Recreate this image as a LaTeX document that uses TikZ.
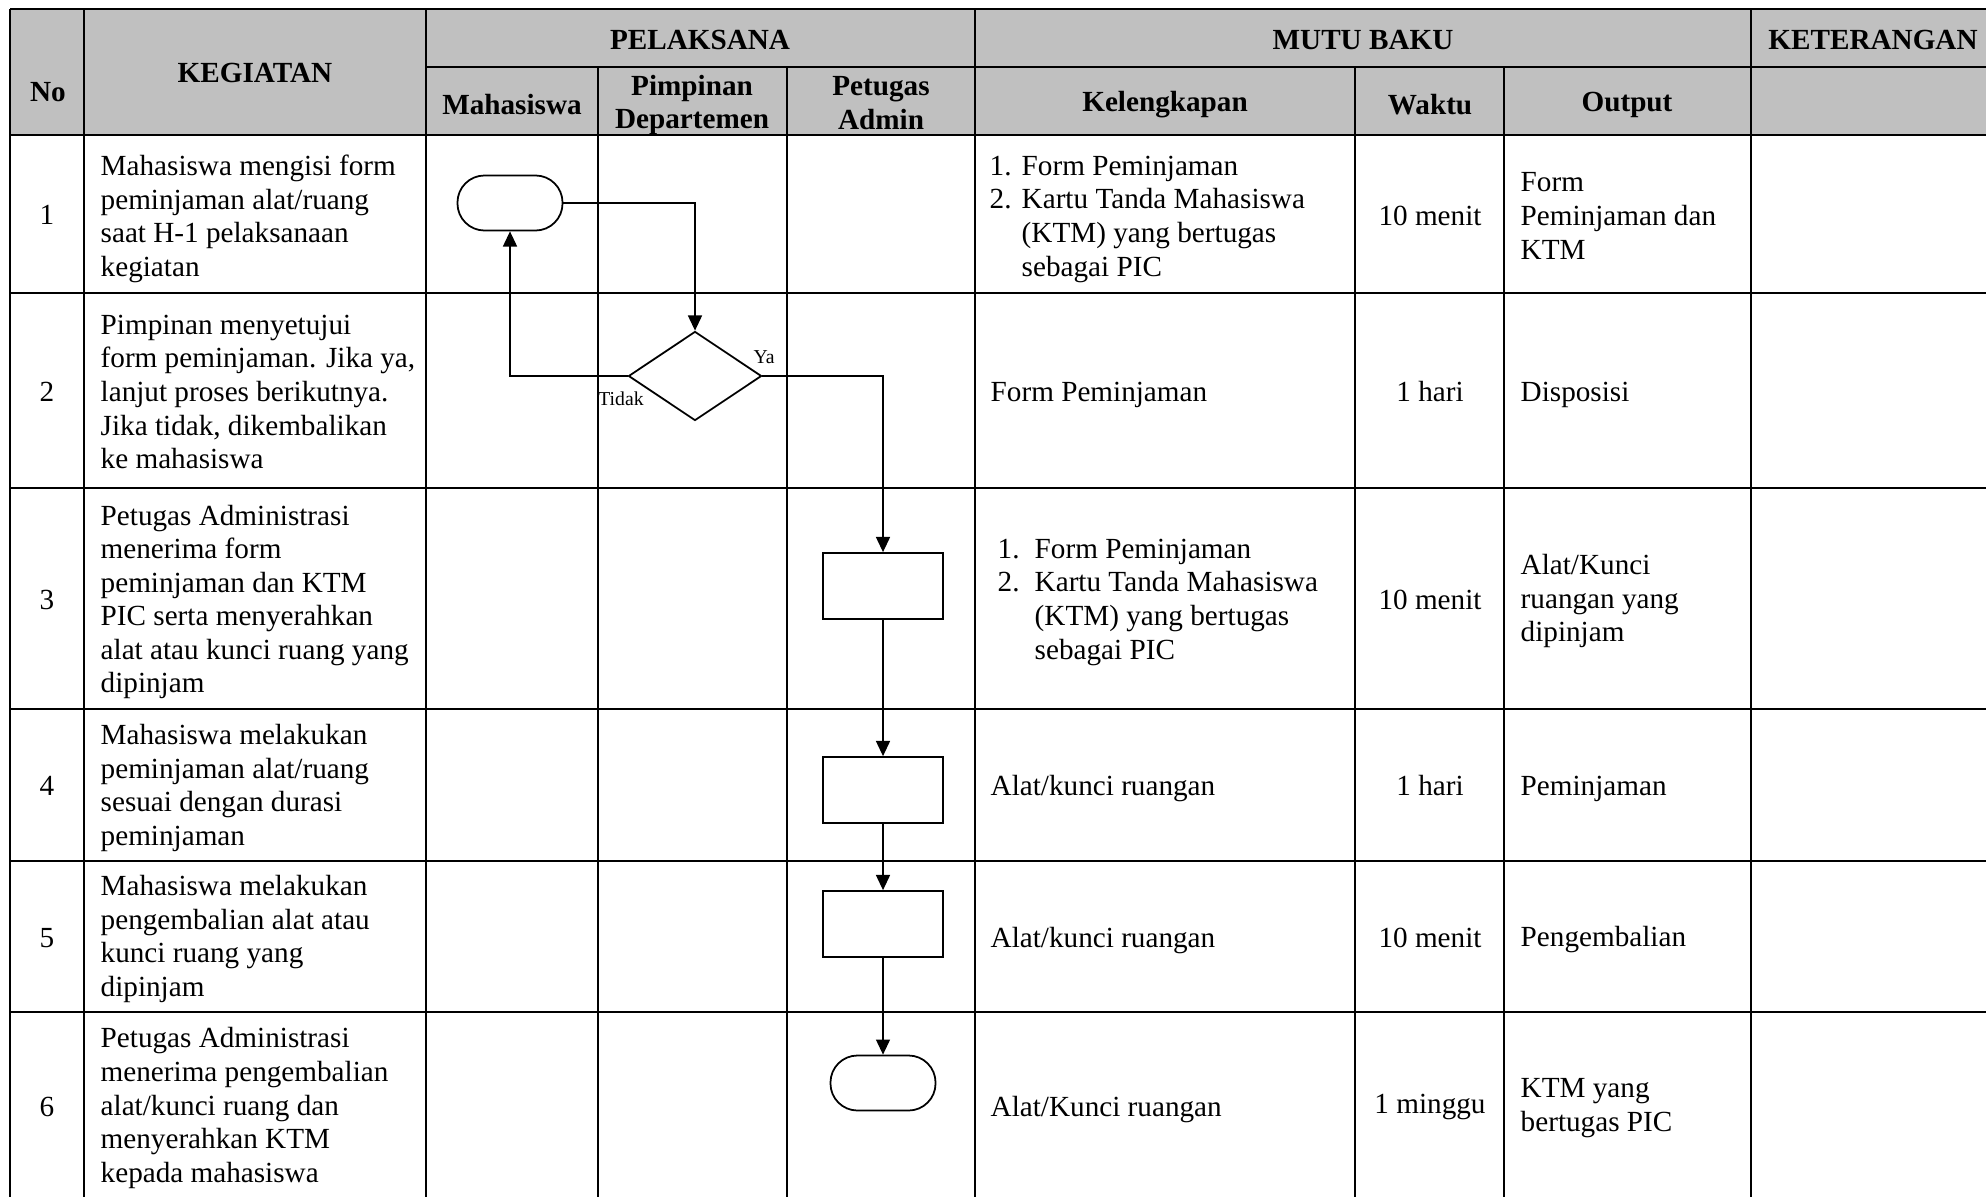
\documentclass[tikz,border=0pt]{standalone}
\usepackage{fontspec}
\setmainfont{Liberation Serif}
\usetikzlibrary{arrows.meta,shapes.geometric}
\definecolor{headgray}{RGB}{192,192,192}

\begin{document}
\begin{tikzpicture}[
  x=0.01cm, y=-0.01cm,
  font=\fontsize{8.3}{9.55}\selectfont,
  hline/.style={line width=0.8pt},
  vline/.style={line width=0.6pt},
  head/.style={font=\fontsize{8.3}{9.55}\selectfont\bfseries, align=center, inner sep=0pt},
  cell/.style={anchor=west, align=left, inner sep=0pt},
  mid/.style={align=center, inner sep=0pt},
  terminal/.style={draw, line width=0.5pt, rounded corners=0.27cm, minimum width=1.05cm, minimum height=0.55cm, inner sep=0pt},
  proses/.style={draw, line width=0.5pt, minimum width=1.2cm, minimum height=0.66cm, inner sep=0pt},
  keputusan/.style={draw, diamond, line width=0.5pt, minimum width=1.33cm, minimum height=0.89cm, inner sep=0pt},
  arrow/.style={-{Triangle[length=4.3pt,width=4pt]}, line width=0.35pt},
  lbl/.style={font=\fontsize{5.6}{6.5}\selectfont, inner sep=0pt}
]
\useasboundingbox (0,0) rectangle (1986,1197);
\clip (0,0) rectangle (1986,1197);

\fill[headgray] (10,9) rectangle (2000,135);
\draw[hline] (10,9) -- (2000,9);
\draw[hline] (426,67) -- (2000,67);
\draw[hline] (10,135) -- (2000,135);
\draw[hline] (10,293) -- (2000,293);
\draw[hline] (10,488) -- (2000,488);
\draw[hline] (10,709) -- (2000,709);
\draw[hline] (10,861) -- (2000,861);
\draw[hline] (10,1012) -- (2000,1012);
\draw[vline] (10,9) -- (10,1197);
\draw[vline] (84,9) -- (84,1197);
\draw[vline] (426,9) -- (426,1197);
\draw[vline] (598,67) -- (598,1197);
\draw[vline] (787,67) -- (787,1197);
\draw[vline] (975,9) -- (975,1197);
\draw[vline] (1355,67) -- (1355,1197);
\draw[vline] (1504,67) -- (1504,1197);
\draw[vline] (1751,9) -- (1751,1197);

\node[head] (hno) at (48,92) {No};
\node[head] (hkeg) at (255,73) {KEGIATAN};
\node[head] (hpel) at (700,40) {PELAKSANA};
\node[head] (hmutu) at (1363,40) {MUTU BAKU};
\node[head] (hket) at (1873,40) {KETERANGAN};
\node[head] (hmhs) at (512,105) {Mahasiswa};
\node[head] (hpim) at (692,105) {Pimpinan\\Departemen};
\node[head] (hadm) at (881,103) {Petugas\\Admin};
\node[head] (hkel) at (1165,105) {Kelengkapan};
\node[head] (hwkt) at (1430,105) {Waktu};
\node[head] (hout) at (1627,105) {Output};

\node[mid] (no1) at (47,215) {1};
\node[mid] (no2) at (47,392) {2};
\node[mid] (no3) at (47,600) {3};
\node[mid] (no4) at (47,786) {4};
\node[mid] (no5) at (47,938) {5};
\node[mid] (no6) at (47,1107) {6};

\node[cell] (keg1) at (100,219) {Mahasiswa mengisi form\\peminjaman alat/ruang\\saat H-1 pelaksanaan\\kegiatan};
\node[cell] (keg2) at (100,392) {Pimpinan menyetujui\\form peminjaman. Jika ya,\\lanjut proses berikutnya.\\Jika tidak, dikembalikan\\ke mahasiswa};
\node[cell] (keg3) at (100,602) {Petugas Administrasi\\menerima form\\peminjaman dan KTM\\PIC serta menyerahkan\\alat atau kunci ruang yang\\dipinjam};
\node[cell] (keg4) at (100,788) {Mahasiswa melakukan\\peminjaman alat/ruang\\sesuai dengan durasi\\peminjaman};
\node[cell] (keg5) at (100,939) {Mahasiswa melakukan\\pengembalian alat atau\\kunci ruang yang\\dipinjam};
\node[cell] (keg6) at (100,1108) {Petugas Administrasi\\menerima pengembalian\\alat/kunci ruang dan\\menyerahkan KTM\\kepada mahasiswa};

\node[cell] (kel1) at (989,219) {\begin{tabular}{@{}p{0.32cm}@{}l@{}}1.&Form Peminjaman\\2.&Kartu Tanda Mahasiswa\\&(KTM) yang bertugas\\&sebagai PIC\end{tabular}};
\node[cell] (kel2) at (990,395) {Form Peminjaman};
\node[cell] (kel3) at (997,602) {\begin{tabular}{@{}p{0.37cm}@{}l@{}}1.&Form Peminjaman\\2.&Kartu Tanda Mahasiswa\\&(KTM) yang bertugas\\&sebagai PIC\end{tabular}};
\node[cell] (kel4) at (990,789) {Alat/kunci ruangan};
\node[cell] (kel5) at (990,941) {Alat/kunci ruangan};
\node[cell] (kel6) at (990,1110) {Alat/Kunci ruangan};

\node[mid] (wkt1) at (1430,216) {10 menit};
\node[mid] (wkt2) at (1430,392) {1 hari};
\node[mid] (wkt3) at (1430,600) {10 menit};
\node[mid] (wkt4) at (1430,786) {1 hari};
\node[mid] (wkt5) at (1430,938) {10 menit};
\node[mid] (wkt6) at (1430,1107) {1 minggu};

\node[cell] (out1) at (1520,216) {Form\\Peminjaman dan\\KTM};
\node[cell] (out2) at (1520,395) {Disposisi};
\node[cell] (out3) at (1520,601) {Alat/Kunci\\ruangan yang\\dipinjam};
\node[cell] (out4) at (1520,789) {Peminjaman};
\node[cell] (out5) at (1520,940) {Pengembalian};
\node[cell] (out6) at (1520,1108) {KTM yang\\bertugas PIC};

\node[terminal] (mulai) at (510,203) {};
\node[keputusan] (setuju) at (695,376) {};
\node[proses] (terima) at (883,586) {};
\node[proses] (pinjam) at (883,790) {};
\node[proses] (kembali) at (883,924) {};
\node[terminal] (selesai) at (883,1083) {};
\node[lbl] (ya) at (764,357) {Ya};
\node[lbl] (tidak) at (621,399) {Tidak};

\draw[arrow] (mulai.east) -| (setuju.north);
\draw[arrow] (setuju.west) -| (mulai.south);
\draw[arrow] (setuju.east) -| (terima.north);
\draw[arrow] (terima) -- (pinjam);
\draw[arrow] (pinjam) -- (kembali);
\draw[arrow] (kembali) -- (selesai);
\end{tikzpicture}
\end{document}
